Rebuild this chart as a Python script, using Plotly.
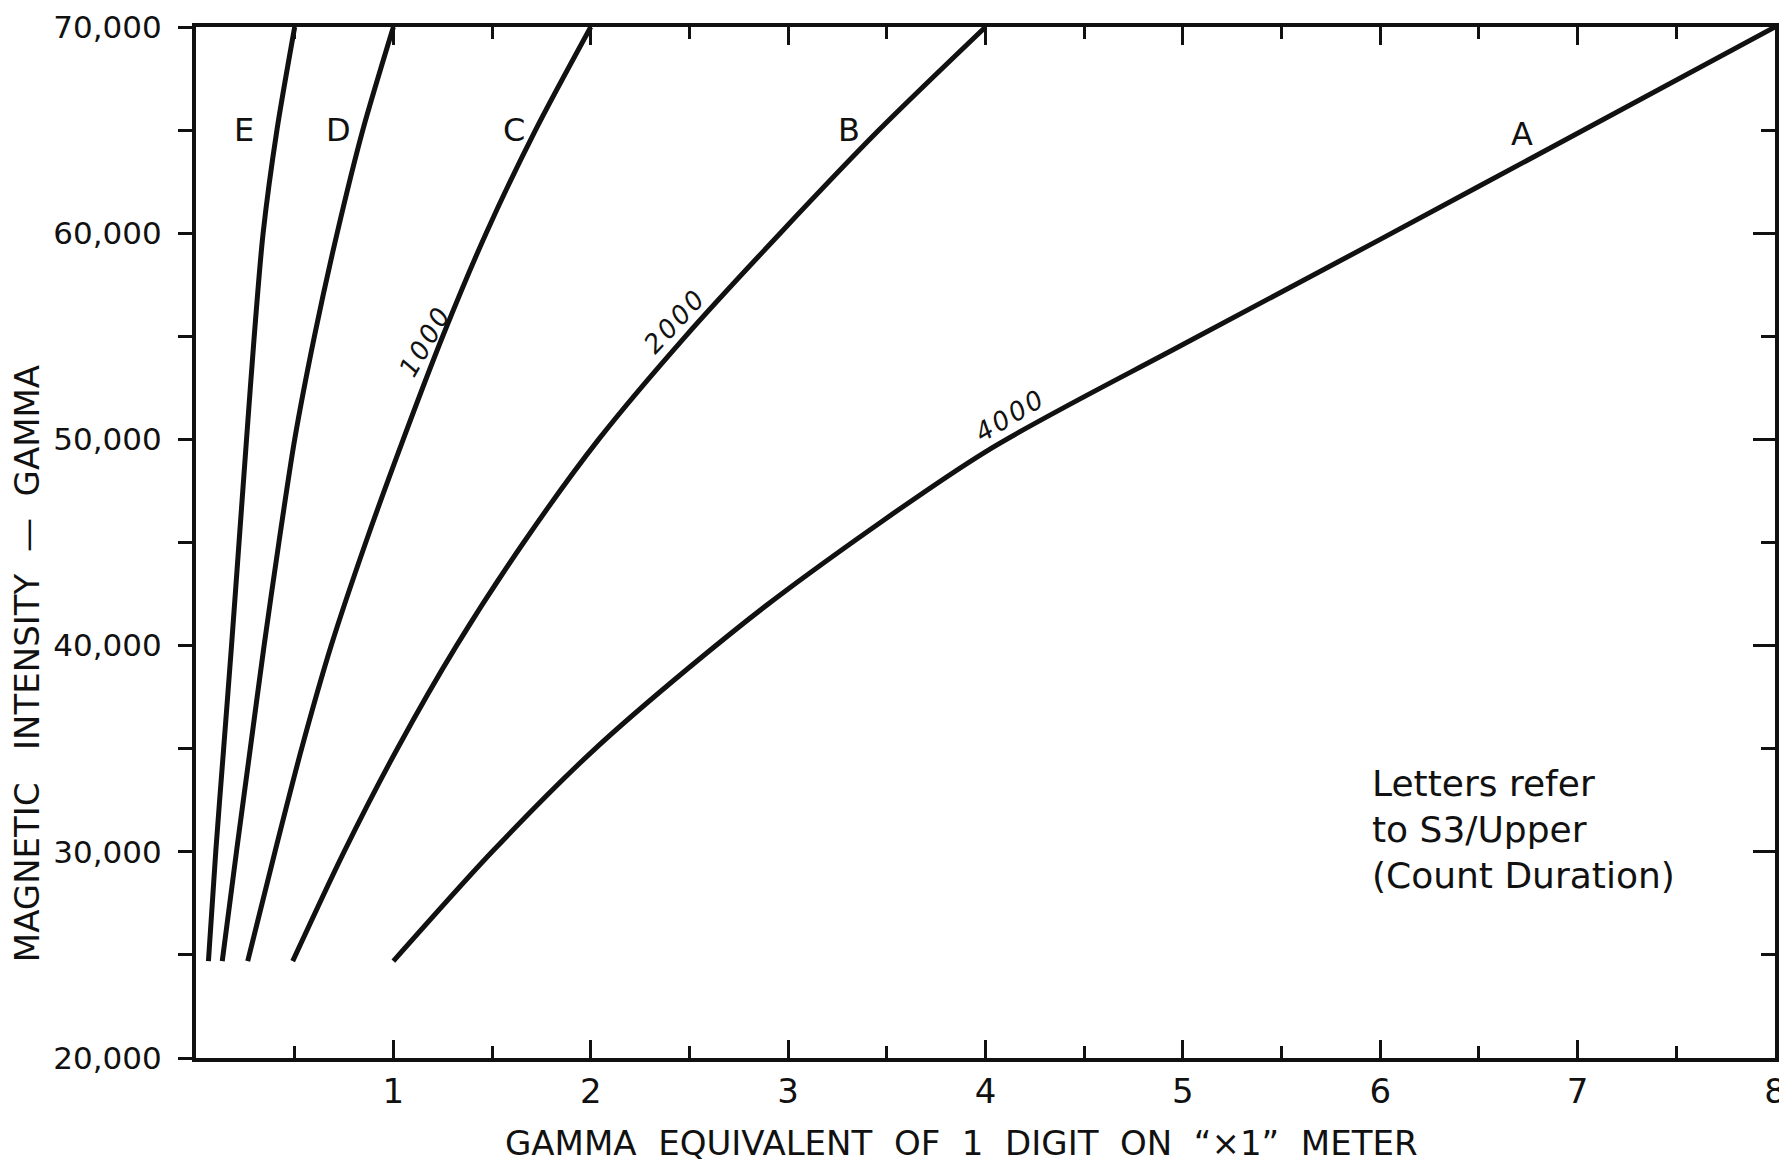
import plotly.graph_objects as go

# ---- data ----
# Curves E, D, C, B: x (gamma per digit) at given magnetic intensity levels
gamma_levels = [24700, 30000, 35000, 40000, 45000, 50000, 55000, 60000, 65000, 70000]
E_x = [0.063, 0.10, 0.14, 0.18, 0.218, 0.256, 0.295, 0.34, 0.41, 0.50]
D_x = [0.133, 0.205, 0.275, 0.345, 0.42, 0.50, 0.60, 0.715, 0.845, 1.0]
C_x = [0.262, 0.40, 0.535, 0.685, 0.86, 1.05, 1.25, 1.47, 1.72, 2.0]
B_x = [0.49, 0.75, 1.02, 1.32, 1.66, 2.04, 2.48, 2.96, 3.46, 4.0]
# Curve A: intensity at given x
A_x = [1.0, 1.5, 2, 2.5, 3, 4, 5, 6, 7, 8]
A_y = [24700, 30000, 34800, 38950, 42750, 49400, 54600, 59700, 64850, 70000]

curve_letters = ["E", "D", "C", "B", "A"]
letter_x = [0.245, 0.72, 1.61, 3.31, 6.72]
letter_y = [65000, 65000, 65000, 65000, 64800]

duration_labels = ["1000", "2000", "4000"]
duration_x = [1.16, 2.42, 4.12]
duration_y = [54700, 55700, 51150]
duration_angle = [-60, -47, -31]

x_tick_vals = [1, 2, 3, 4, 5, 6, 7, 8]
y_tick_vals = [20000, 30000, 40000, 50000, 60000, 70000]
y_tick_text = ["20,000", "30,000", "40,000", "50,000", "60,000", "70,000"]

note_lines = ["Letters refer", "to S3/Upper", "(Count Duration)"]
note_y = [33330, 31070, 28870]

NB = "\u00a0"
x_title = (NB * 2).join(["GAMMA", "EQUIVALENT", "OF", "1", "DIGIT", "ON", "\u201c\u00d71\u201d", "METER"])
y_title = "MAGNETIC" + NB * 3 + "INTENSITY" + NB * 2 + "\u2014" + NB * 2 + "GAMMA"

FONT = "DejaVu Sans, Liberation Sans, sans-serif"
INK = "#111111"

fig = go.Figure()
for xs in [E_x, D_x, C_x, B_x]:
    fig.add_trace(go.Scatter(x=xs, y=gamma_levels, mode="lines",
                             line=dict(color=INK, width=5, shape="spline", smoothing=0.8),
                             hoverinfo="skip", showlegend=False))
fig.add_trace(go.Scatter(x=A_x, y=A_y, mode="lines",
                         line=dict(color=INK, width=5, shape="spline", smoothing=0.8),
                         hoverinfo="skip", showlegend=False))
# helper trace to activate the right-hand axis
fig.add_trace(go.Scatter(x=[0], y=[20000], yaxis="y2", mode="markers",
                         marker=dict(opacity=0), hoverinfo="skip", showlegend=False))

annotations = []
for t, x, y in zip(curve_letters, letter_x, letter_y):
    annotations.append(dict(x=x, y=y, xref="x", yref="y", text=t, showarrow=False,
                            font=dict(family=FONT, size=32, color=INK)))
for t, x, y, a in zip(duration_labels, duration_x, duration_y, duration_angle):
    spaced = "\u200a".join(list(t))
    annotations.append(dict(x=x, y=y, xref="x", yref="y", text="<i>" + spaced + "</i>", showarrow=False,
                            textangle=a, font=dict(family=FONT, size=26, color=INK)))
for t, y in zip(note_lines, note_y):
    annotations.append(dict(x=5.95, y=y, xref="x", yref="y", text=t, showarrow=False,
                            xanchor="left", yanchor="middle",
                            font=dict(family=FONT, size=36, color=INK)))
annotations.append(dict(x=0.485, y=-0.082, xref="paper", yref="paper", text=x_title,
                        xanchor="center", yanchor="middle",
                        showarrow=False, font=dict(family=FONT, size=34, color=INK)))
annotations.append(dict(x=-0.107, y=0.382, xref="paper", yref="paper", text=y_title,
                        xanchor="center", yanchor="middle",
                        showarrow=False, textangle=-90, font=dict(family=FONT, size=34, color=INK)))

fig.update_layout(
    width=1779, height=1157, autosize=False,
    margin=dict(l=188, r=12, t=19, b=107, autoexpand=False),
    paper_bgcolor="white", plot_bgcolor="white",
    showlegend=False,
    annotations=annotations,
    xaxis=dict(range=[0, 8], tickmode="array", tickvals=x_tick_vals,
               ticktext=[str(v) for v in x_tick_vals],
               ticks="inside", ticklen=18, tickwidth=3, tickcolor=INK,
               minor=dict(dtick=0.5, tick0=0, ticks="inside", ticklen=12, tickwidth=3, tickcolor=INK),
               showline=True, linewidth=4, linecolor=INK, mirror="ticks",
               showgrid=False, zeroline=False, ticklabelstandoff=0,
               ticklabeloverflow="allow", automargin=False,
               tickfont=dict(family=FONT, size=34, color=INK)),
    yaxis=dict(range=[20000, 70000], tickmode="array", tickvals=y_tick_vals, ticktext=y_tick_text,
               ticks="outside", ticklen=14, tickwidth=3, tickcolor=INK,
               minor=dict(dtick=5000, tick0=20000, ticks="outside", ticklen=14, tickwidth=3, tickcolor=INK),
               showline=True, linewidth=4, linecolor=INK, mirror=True,
               showgrid=False, zeroline=False, ticklabelstandoff=10,
               ticklabeloverflow="allow", automargin=False,
               tickfont=dict(family=FONT, size=31, color=INK)),
    yaxis2=dict(range=[20000, 70000], overlaying="y", side="right",
                tickmode="array", tickvals=y_tick_vals[1:-1],
                ticks="inside", ticklen=22, tickwidth=3, tickcolor=INK,
                minor=dict(dtick=5000, tick0=20000, ticks="inside", ticklen=14, tickwidth=3, tickcolor=INK),
                showticklabels=False, showline=True, linewidth=4, linecolor=INK,
                showgrid=False, zeroline=False, automargin=False),
)

fig.write_html("out.html")
